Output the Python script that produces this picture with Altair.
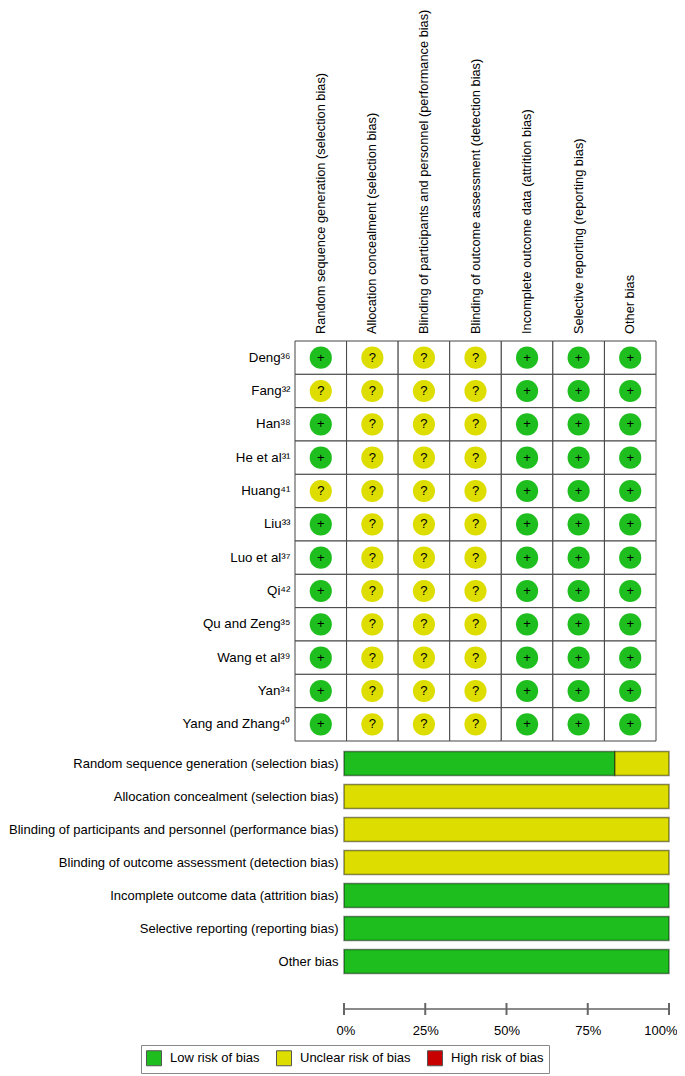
import altair as alt
import pandas as pd

FONT = "Liberation Sans"

studies = ["Deng³⁶", "Fang³²", "Han³⁸", "He et al³¹", "Huang⁴¹", "Liu³³",
           "Luo et al³⁷", "Qi⁴²", "Qu and Zeng³⁵", "Wang et al³⁹", "Yan³⁴",
           "Yang and Zhang⁴⁰"]

domains = [
    "Random sequence generation (selection bias)",
    "Allocation concealment (selection bias)",
    "Blinding of participants and personnel (performance bias)",
    "Blinding of outcome assessment (detection bias)",
    "Incomplete outcome data (attrition bias)",
    "Selective reporting (reporting bias)",
    "Other bias",
]

# judgments per domain, in study order ("+" low, "?" unclear, "-" high)
random_sequence = ["+", "?", "+", "+", "?", "+", "+", "+", "+", "+", "+", "+"]
allocation = ["?", "?", "?", "?", "?", "?", "?", "?", "?", "?", "?", "?"]
blinding_participants = ["?", "?", "?", "?", "?", "?", "?", "?", "?", "?", "?", "?"]
blinding_outcome = ["?", "?", "?", "?", "?", "?", "?", "?", "?", "?", "?", "?"]
incomplete_data = ["+", "+", "+", "+", "+", "+", "+", "+", "+", "+", "+", "+"]
selective_reporting = ["+", "+", "+", "+", "+", "+", "+", "+", "+", "+", "+", "+"]
other_bias = ["+", "+", "+", "+", "+", "+", "+", "+", "+", "+", "+", "+"]
judgments = [random_sequence, allocation, blinding_participants, blinding_outcome,
             incomplete_data, selective_reporting, other_bias]

levels = ["Low risk of bias", "Unclear risk of bias", "High risk of bias"]
level_colors = ["#1EBE1E", "#DDDD00", "#C80000"]
symbol_to_level = {"+": levels[0], "?": levels[1], "-": levels[2]}

percent_ticks = [0, 0.25, 0.5, 0.75, 1.0]

rows = []
for d, col in zip(domains, judgments):
    for s, j in zip(studies, col):
        rows.append({"study": s, "domain": d, "sym": j, "level": symbol_to_level[j]})
grid_df = pd.DataFrame(rows)

bar_rows = []
for d, col in zip(domains, judgments):
    for i, lv in enumerate(levels):
        n = sum(1 for j in col if symbol_to_level[j] == lv)
        if n > 0:
            bar_rows.append({"domain": d, "level": lv, "n": n, "ord": i})
bar_df = pd.DataFrame(bar_rows)

header_df = pd.DataFrame({"domain": domains, "base": [0] * len(domains)})
ticks_df = pd.DataFrame({"pct": percent_ticks})
line_df = pd.DataFrame({"a": [percent_ticks[0]], "b": [percent_ticks[-1]]})

color_scale = alt.Scale(domain=levels, range=level_colors)
legend = alt.Legend(
    title=None, orient="none", legendX=-154, legendY=298, direction="horizontal",
    symbolType="square", symbolSize=225, symbolStrokeColor="#555", symbolStrokeWidth=1,
    symbolOpacity=1, labelFontSize=13, labelFont=FONT, labelColor="black",
    labelOffset=8, columnPadding=14, padding=5, strokeColor="#888", fillColor="white",
    labelLimit=300,
)

GW, GH = 361, 400
xg = alt.Scale(type="band", domain=domains, paddingInner=0, paddingOuter=0)
yg = alt.Scale(type="band", domain=studies, paddingInner=0, paddingOuter=0)

header = alt.Chart(header_df).mark_text(
    angle=270, align="left", baseline="middle", fontSize=12.8, font=FONT,
    color="black"
).encode(
    x=alt.X("domain:N", scale=xg, axis=None),
    y=alt.Y("base:Q", scale=alt.Scale(domain=[0, 1]),
            axis=alt.Axis(labels=False, ticks=False, domain=False, grid=False,
                          title=None, minExtent=286, maxExtent=286)),
    text="domain:N",
).properties(width=GW, height=326)

yaxis_grid = alt.Axis(title=None, ticks=False, domain=False, labelFontSize=13.3,
                      labelFont=FONT, labelColor="black", labelPadding=5,
                      labelLimit=300, minExtent=286)

cells = alt.Chart(grid_df).mark_rect(fill="white", stroke="#444", strokeWidth=1).encode(
    x=alt.X("domain:N", scale=xg, axis=None),
    y=alt.Y("study:N", scale=yg, axis=yaxis_grid),
)
circles = alt.Chart(grid_df).mark_circle(size=491, opacity=1).encode(
    x=alt.X("domain:N", scale=xg, axis=None),
    y=alt.Y("study:N", scale=yg, axis=yaxis_grid),
    color=alt.Color("level:N", scale=color_scale, legend=None),
)
syms = alt.Chart(grid_df).mark_text(fontSize=13, font=FONT, color="black").encode(
    x=alt.X("domain:N", scale=xg, axis=None),
    y=alt.Y("study:N", scale=yg, axis=yaxis_grid),
    text="sym:N",
)
grid = alt.layer(cells, circles, syms).properties(width=GW, height=GH)

# bar panel: plot area shares the grid's left edge; bars start 49px further right
BAR_SHIFT, BW, BH = 49, 325, 231
xb = alt.Scale(domain=[0, 1], range=[BAR_SHIFT, BAR_SHIFT + BW])
bars = alt.Chart(bar_df).mark_bar(stroke="black", strokeOpacity=0.45, strokeWidth=1.5).encode(
    y=alt.Y("domain:N", scale=alt.Scale(domain=domains, paddingInner=0.27, paddingOuter=0.135),
            axis=alt.Axis(title=None, ticks=False, domain=False, labelFontSize=13,
                          labelFont=FONT, labelColor="black", labelPadding=6,
                          labelLimit=400, offset=-BAR_SHIFT, minExtent=0)),
    x=alt.X("n:Q", stack="normalize", scale=xb,
            axis=alt.Axis(title=None, orient="bottom", offset=44, values=percent_ticks,
                          format=".0%", domain=False, ticks=False, grid=False,
                          labelFlush=True, labelFlushOffset=8,
                          labelPadding=2, labelFontSize=13, labelFont=FONT,
                          labelColor="black")),
    color=alt.Color("level:N", scale=color_scale, legend=legend),
    order=alt.Order("ord:Q"),
)
axis_line = alt.Chart(line_df).mark_rule(color="#8a8a8a", strokeWidth=2).encode(
    x=alt.X("a:Q", scale=xb), x2="b:Q", y=alt.value(262),
)
axis_ticks = alt.Chart(ticks_df).mark_rule(color="#666", strokeWidth=2).encode(
    x=alt.X("pct:Q", scale=xb), y=alt.value(256), y2=alt.value(268),
)
barchart = alt.layer(bars, axis_line, axis_ticks).properties(width=BAR_SHIFT + BW, height=BH)

chart = alt.concat(header, grid, barchart, columns=1, spacing=5).properties(
    padding=0
).resolve_scale(color="independent").configure(font=FONT).configure_view(stroke=None)

chart.save("out.html", embed_options={"renderer": "svg", "actions": False})
